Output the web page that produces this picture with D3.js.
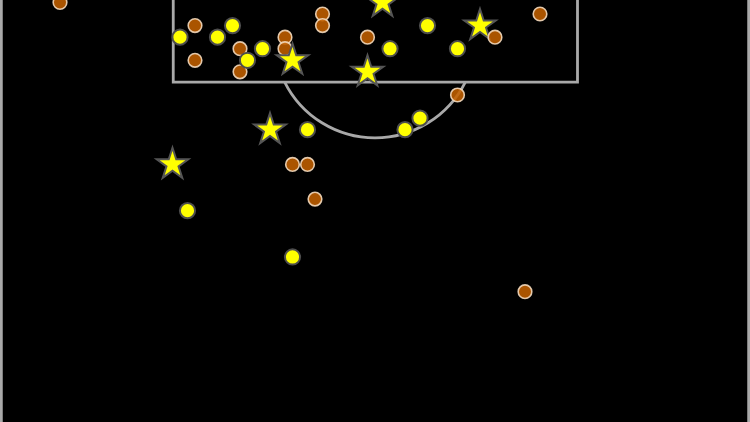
<!DOCTYPE html>
<html>
<head>
<meta charset="utf-8">
<script src="https://cdn.jsdelivr.net/npm/d3@7"></script>
<style>
  html, body { margin: 0; padding: 0; background: #000; }
  svg { display: block; }
</style>
</head>
<body>
<svg id="chart" width="750" height="422"></svg>
<script>
// Shot data: across = position across the pitch width (0-100),
// dist = position along the pitch (Opta-style, goal at 100)
const missedAcross = [8, 26, 26, 32, 32, 38, 38, 43, 43, 49, 72, 61, 39, 41, 42, 70];
const missedDist   = [90, 88, 85, 86, 84, 87, 86, 89, 88, 87, 89, 82, 76, 76, 73, 65];

const savedAcross = [24, 29, 31, 33, 35, 52, 57, 61, 56, 54, 41, 25, 39];
const savedDist   = [87, 87, 88, 85, 86, 86, 88, 86, 80, 79, 79, 72, 68];

const goalAcross = [51, 39, 49, 64, 36, 23];
const goalDist   = [90, 85, 84, 88, 79, 76];

// orange shot drawn above the goals (overlap order)
const lateMissedAcross = [66];
const lateMissedDist   = [87];

// Pitch markings (pitch units)
const boxLeft = 23.1, boxRight = 77.0, boxEdge = 83.12;
const spotDist = 87.03, arcRadiusAcross = 13.47;

const W = 750, H = 422;
const svg = d3.select("#chart");
svg.append("rect").attr("width", W).attr("height", H).attr("fill", "#000");

const x = d3.scaleLinear().domain([0, 100]).range([0, 750]);
const y = d3.scaleLinear().domain([89, 78]).range([14, 14 + 11 * 11.57]);

const lineColor = "#a9a9a9";
const pitch = svg.append("g").attr("fill", "none").attr("stroke", lineColor);

// touchlines
pitch.append("line").attr("x1", x(0)).attr("x2", x(0)).attr("y1", 0).attr("y2", H).attr("stroke-width", 5.5);
pitch.append("line").attr("x1", x(100)).attr("x2", x(100)).attr("y1", 0).attr("y2", H).attr("stroke-width", 5.5);

// penalty box
pitch.append("path")
  .attr("d", `M${x(boxLeft)},${y(100)} L${x(boxLeft)},${y(boxEdge)} L${x(boxRight)},${y(boxEdge)} L${x(boxRight)},${y(100)}`)
  .attr("stroke-width", 2.8);

// penalty arc
const cx = x(50), cy = y(spotDist), r = x(arcRadiusAcross) - x(0);
const dy = y(boxEdge) - cy;
const half = Math.acos(dy / r);
const p = d3.path();
p.arc(cx, cy, r, Math.PI / 2 - half, Math.PI / 2 + half);
pitch.append("path").attr("d", p.toString()).attr("stroke-width", 2.8);

const orangeFill = "#c26000", orangeStroke = "#f3d9bd";

function drawMissed(ax, ds) {
  svg.append("g").selectAll("circle")
    .data(d3.zip(ax, ds)).join("circle")
    .attr("cx", d => x(d[0])).attr("cy", d => y(d[1]))
    .attr("r", 6.8)
    .attr("fill", orangeFill).attr("fill-opacity", 0.88)
    .attr("stroke", orangeStroke).attr("stroke-width", 1.6).attr("stroke-opacity", 0.9);
}

drawMissed(missedAcross, missedDist);

svg.append("g").selectAll("circle")
  .data(d3.zip(savedAcross, savedDist)).join("circle")
  .attr("cx", d => x(d[0])).attr("cy", d => y(d[1]))
  .attr("r", 7.6)
  .attr("fill", "#ffff00")
  .attr("stroke", "#4d4d4d").attr("stroke-width", 2);

const star = d3.symbol().type(d3.symbolStar).size(310);
svg.append("g").selectAll("path")
  .data(d3.zip(goalAcross, goalDist)).join("path")
  .attr("d", star)
  .attr("transform", d => `translate(${x(d[0])},${y(d[1])})`)
  .attr("fill", "#ffff00")
  .attr("stroke", "#555555").attr("stroke-width", 2).attr("stroke-linejoin", "miter");

drawMissed(lateMissedAcross, lateMissedDist);
</script>
</body>
</html>
